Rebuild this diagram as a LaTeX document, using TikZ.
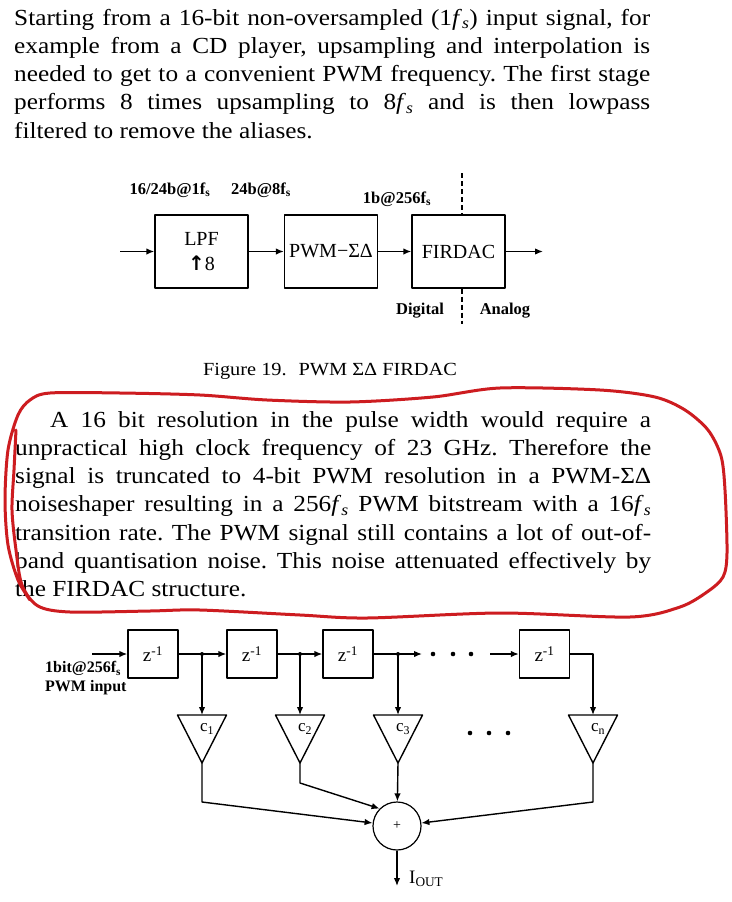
\documentclass[tikz,border=0pt]{standalone}
\usepackage{fontspec}
\setmainfont{Liberation Serif}
\newfontfamily\bodyfont[FakeStretch=1.1]{Liberation Serif}
\newfontfamily\arrowfont{DejaVu Sans}
\usetikzlibrary{arrows.meta}
\definecolor{pen}{RGB}{205,28,32}
\newcommand{\fsit}{\textit{f}\textsubscript{\textit{s}}}
\newcommand{\fsup}{f\textsubscript{s}}
\newcommand{\nohyph}{\frenchspacing\hyphenpenalty 10000 \exhyphenpenalty 10000 }
\begin{document}
\begin{tikzpicture}[x=1pt,y=-1pt,>={Latex[length=8pt,width=6.5pt]},line join=round,
    block/.style={draw,line width=1.4pt,minimum width=93pt,minimum height=73pt,inner sep=2pt,align=center,font=\fontsize{20}{25}\selectfont},
    delay/.style={draw,line width=1.4pt,minimum width=50pt,minimum height=48pt,inner sep=1pt,font=\fontsize{19}{22}\selectfont},
    lbl/.style={inner sep=0pt,font=\bfseries\fontsize{16.5}{20}\selectfont},
    para/.style={anchor=base west,inner sep=0pt,text width=636pt,align=justify,
      font=\bodyfont\fontsize{23}{28.3}\selectfont},
    wire/.style={line width=1.4pt},
    redpen/.style={draw=pen,line width=3pt,line cap=round}]
  \fill[white] (0,0) rectangle (731,902);
  \useasboundingbox (0,0) rectangle (731,902);
  %	\draw[step=50,gray,very thin] (0,0) grid (731,902);
  % text above the figure
  \node[para] (intro) at (14,25) {\nohyph Starting from a 16-bit non-oversampled (1\fsit) input signal, for\linebreak
    example from a CD player, upsampling and interpolation is\linebreak
    needed to get to a convenient PWM frequency. The first stage\linebreak
    performs 8 times upsampling to 8\fsit{} and is then lowpass\linebreak
    filtered to remove the aliases.};
  % block diagram
  \node[block] (lpf) at (201.5,251.5) {LPF\\{\arrowfont\bfseries ↑}8};
  \node[block] (pwm) at (331,251.5) {PWM−ΣΔ};
  \node[block] (firdac) at (458.5,251.5) {FIRDAC};
  \coordinate (src) at (120,251.5);
  \coordinate (dst) at (543,251.5);
  \draw[wire,->] (src) -- (lpf);
  \draw[wire,->] (lpf) -- (pwm);
  \draw[wire,->] (pwm) -- (firdac);
  \draw[wire,->] (firdac) -- (dst);
  \node[lbl] (rin) at (170,190) {16/24b@1\fsup};
  \node[lbl] (rlpf) at (261,190) {24b@8\fsup};
  \node[lbl] (rpwm) at (397,199) {1b@256\fsup};
  \coordinate (cut) at (462,173);
  \draw[wire,dash pattern=on 5pt off 3pt] (cut) -- (cut |- firdac.north);
  \draw[wire,dash pattern=on 5pt off 3pt] (cut |- firdac.south) -- ++(0,35);
  \node[lbl] (dig) at (420,311) {Digital};
  \node[lbl] (ana) at (505,311) {Analog};
  \node[anchor=base,inner sep=0pt,font=\bodyfont\fontsize{18.5}{22}\selectfont] (cap) at (330,375) {Figure 19.~ PWM ΣΔ FIRDAC};
  % second paragraph and the hand drawn loop
  \node[para] (body) at (15,427) {\nohyph\hspace*{35pt}A 16 bit resolution in the pulse width would require a\linebreak
    unpractical high clock frequency of 23 GHz. Therefore the\linebreak
    signal is truncated to 4-bit PWM resolution in a PWM-ΣΔ\linebreak
    noiseshaper resulting in a 256\fsit{} PWM bitstream with a 16\fsit\linebreak
    transition rate. The PWM signal still contains a lot of out-of-\linebreak
    band quantisation noise. This noise attenuated effectively by\linebreak
    the FIRDAC structure.};
  \draw[redpen] plot[smooth,tension=0.5] coordinates {(16,430) (14,470) (12,510) (16,550) (22,585) (38,606)
    (70,612) (150,611) (200,610) (300,615) (367,618) (500,613) (630,617) (680,607) (707,592) (723,577)
    (727,553) (725,490) (721,456) (708,430) (685,410) (655,397) (600,390) (500,388) (433,397)
    (350,402) (267,400) (200,395) (120,393) (50,393) (30,400) (18,415) (8,450) (5,500) (8,545) (18,580) (30,600)};
  % FIRDAC structure
  \node[delay] (z1) at (153,654) {z\textsuperscript{-1}};
  \node[delay] (z2) at (252,654) {z\textsuperscript{-1}};
  \node[delay] (z3) at (348,654) {z\textsuperscript{-1}};
  \node[delay] (zn) at (544.5,654) {z\textsuperscript{-1}};
  \coordinate (fin) at (92,654);
  \node[lbl,anchor=west,align=left,font=\bfseries\fontsize{16}{19}\selectfont] (inlbl) at (45,678) {1bit@256\fsup\\PWM input};
  \foreach \x/\c [count=\i] in {202/1,300/2,398/3,593/n} {
    \draw[wire] (\x-24.5,715) -- (\x+24.5,715) -- (\x,763) -- cycle;
    \coordinate (gin\i) at (\x,715);
    \coordinate (gout\i) at (\x,763);
    \node[inner sep=0pt,font=\fontsize{17}{20}\selectfont] (c\i) at (\x+5,729) {c\textsubscript{\c}};
  }
  \coordinate (j1) at (202,654);
  \coordinate (j2) at (300,654);
  \coordinate (j3) at (398,654);
  \coordinate (d1) at (422,654);
  \coordinate (d2) at (490,654);
  \draw[wire,->] (fin) -- (z1);
  \draw[wire] (z1) -- (j1);
  \draw[wire,->] (j1) -- (z2);
  \draw[wire] (z2) -- (j2);
  \draw[wire,->] (j2) -- (z3);
  \draw[wire] (z3) -- (j3);
  \draw[wire,->] (j3) -- (d1);
  \draw[wire,->] (d2) -- (zn);
  \draw[wire,->] (zn.east) -| (gin4);
  \foreach \j in {1,2,3} {
    \fill (j\j) circle (2);
    \draw[wire,->] (j\j) -- (gin\j);
  }
  \foreach \x in {433,453,471} \fill (\x,654) circle (2.3);
  \foreach \x in {470,489,508} \fill (\x,733) circle (2.3);
  \node[draw,circle,line width=1.2pt,minimum size=48pt,inner sep=0pt,font=\fontsize{14}{16}\selectfont] (sum) at (397,826) {+};
  \draw[wire,->] (gout1) -- ++(0,39) -- (sum);
  \draw[wire,->] (gout2) -- ++(0,20) -- (sum.135);
  \draw[wire,->] (gout3) -- (sum);
  \draw[wire,->] (gout4) -- ++(0,39) -- (sum);
  \coordinate (iout) at (397,886);
  \draw[wire,->] (sum) -- (iout);
  \node[anchor=west,inner sep=0pt,font=\fontsize{19}{22}\selectfont] (ilbl) at (409,879) {I\textsubscript{OUT}};
\end{tikzpicture}
\end{document}
